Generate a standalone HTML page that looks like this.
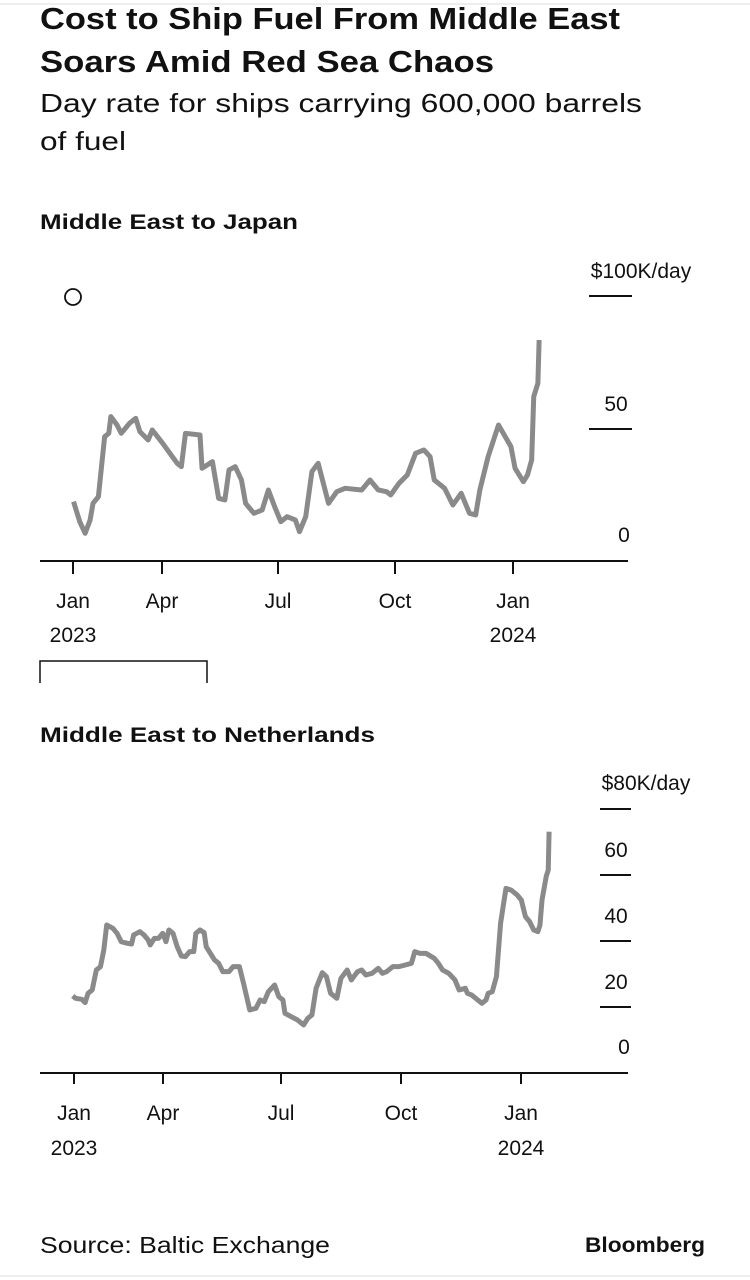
<!DOCTYPE html>
<html><head><meta charset="utf-8"><style>
html,body{margin:0;padding:0;background:#fff;}
svg{display:block;font-family:"Liberation Sans",Arial,sans-serif;}
</style></head><body>
<svg width="750" height="1280" viewBox="0 0 750 1280">
<rect width="750" height="1280" fill="#fff"/>
<line x1="0" y1="4" x2="750" y2="4" stroke="#eee" stroke-width="2"/>
<line x1="0" y1="1276" x2="750" y2="1276" stroke="#eee" stroke-width="2"/>
<g fill="#111">
<text x="40" y="29" font-size="31" font-weight="bold" textLength="580" lengthAdjust="spacingAndGlyphs">Cost to Ship Fuel From Middle East</text>
<text x="40" y="72" font-size="31" font-weight="bold" textLength="454" lengthAdjust="spacingAndGlyphs">Soars Amid Red Sea Chaos</text>
<text x="40" y="112" font-size="26" textLength="602" lengthAdjust="spacingAndGlyphs">Day rate for ships carrying 600,000 barrels</text>
<text x="40" y="150" font-size="26" textLength="86" lengthAdjust="spacingAndGlyphs">of fuel</text>
<text x="40" y="229" font-size="21" font-weight="bold" textLength="258" lengthAdjust="spacingAndGlyphs">Middle East to Japan</text>
<text x="40" y="742" font-size="21" font-weight="bold" textLength="335" lengthAdjust="spacingAndGlyphs">Middle East to Netherlands</text>
</g>
<!-- chart 1 -->
<circle cx="73" cy="297" r="8" fill="none" stroke="#111" stroke-width="1.8"/>
<g fill="#111" font-size="21">
<text x="641" y="278" text-anchor="middle">$100K/day</text>
<text x="616" y="411" text-anchor="middle">50</text>
<text x="624" y="542" text-anchor="middle">0</text>
</g>
<g stroke="#111" stroke-width="2">
<line x1="589" y1="296" x2="632" y2="296"/>
<line x1="589" y1="429" x2="632" y2="429"/>
<line x1="40" y1="561" x2="628" y2="561"/>
<line x1="73" y1="561" x2="73" y2="574"/><line x1="162" y1="561" x2="162" y2="574"/>
<line x1="278" y1="561" x2="278" y2="574"/><line x1="395" y1="561" x2="395" y2="574"/>
<line x1="513" y1="561" x2="513" y2="574"/>
</g>
<g fill="#111" font-size="21" text-anchor="middle">
<text x="73" y="608">Jan</text><text x="162" y="608">Apr</text><text x="278" y="608">Jul</text><text x="395" y="608">Oct</text><text x="513" y="608">Jan</text>
<text x="73" y="642">2023</text><text x="513" y="642">2024</text>
</g>
<g transform="translate(30,250) scale(0.4146,0.3333)">
<polyline fill="none" stroke="#8a8a8a" stroke-width="5" vector-effect="non-scaling-stroke" stroke-linejoin="round" points="105,755 120,815 133,850 145,810 152,760 165,740 180,560 190,550 195,500 210,525 220,550 240,520 255,505 265,545 285,570 295,540 320,580 355,640 365,650 375,550 410,555 415,655 440,635 455,745 470,750 480,660 495,650 510,690 520,760 540,790 560,780 575,720 590,770 605,815 620,800 640,810 650,845 665,800 680,665 695,640 720,760 740,725 760,715 800,720 820,690 840,720 860,725 870,735 890,700 910,675 930,610 950,600 965,620 975,690 1000,715 1020,765 1040,730 1060,790 1075,795 1085,720 1105,620 1130,525 1160,590 1170,655 1190,695 1200,675 1210,630 1215,440 1225,400 1228,270"/>
</g>
<path d="M40 683 V661 H207 V683" fill="none" stroke="#111" stroke-width="1.5"/>
<!-- chart 2 -->
<g fill="#111" font-size="21">
<text x="646" y="790" text-anchor="middle">$80K/day</text>
<text x="616" y="857" text-anchor="middle">60</text>
<text x="616" y="923" text-anchor="middle">40</text>
<text x="616" y="989" text-anchor="middle">20</text>
<text x="624" y="1054" text-anchor="middle">0</text>
</g>
<g stroke="#111" stroke-width="2">
<line x1="600" y1="809" x2="631" y2="809"/>
<line x1="600" y1="875" x2="631" y2="875"/>
<line x1="600" y1="941" x2="631" y2="941"/>
<line x1="600" y1="1007" x2="631" y2="1007"/>
<line x1="40" y1="1073" x2="628" y2="1073"/>
<line x1="74" y1="1073" x2="74" y2="1084"/><line x1="163" y1="1073" x2="163" y2="1084"/>
<line x1="281" y1="1073" x2="281" y2="1084"/><line x1="401" y1="1073" x2="401" y2="1084"/>
<line x1="521" y1="1073" x2="521" y2="1084"/>
</g>
<g fill="#111" font-size="21" text-anchor="middle">
<text x="74" y="1120">Jan</text><text x="163" y="1120">Apr</text><text x="281" y="1120">Jul</text><text x="401" y="1120">Oct</text><text x="521" y="1120">Jan</text>
<text x="74" y="1155">2023</text><text x="521" y="1155">2024</text>
</g>
<g transform="translate(30,770) scale(0.4146,0.3333)">
<polyline fill="none" stroke="#8a8a8a" stroke-width="5" vector-effect="non-scaling-stroke" stroke-linejoin="round" points="103,678 110,685 125,688 133,698 140,670 150,660 160,600 170,590 178,540 185,465 200,475 210,490 220,515 235,520 245,522 250,495 265,485 275,495 285,510 290,525 300,505 310,505 320,490 328,515 335,480 345,490 355,530 365,558 375,560 385,545 395,545 400,490 410,480 420,488 425,530 435,550 445,570 455,580 465,605 480,605 490,590 505,590 515,640 530,720 545,715 555,690 565,695 575,665 590,645 600,680 610,690 615,730 630,740 645,750 660,765 670,745 680,735 690,655 705,608 715,620 725,670 740,685 750,625 765,600 775,630 790,605 800,600 810,615 825,610 840,595 850,610 860,605 875,590 890,590 905,585 920,580 928,545 940,550 955,550 975,565 985,580 995,600 1010,610 1025,630 1035,660 1050,655 1055,670 1065,675 1075,685 1090,700 1100,690 1105,670 1115,665 1125,620 1135,460 1148,355 1160,360 1175,375 1185,390 1195,440 1205,455 1215,480 1225,485 1230,465 1235,390 1245,320 1250,300 1252,185"/>
</g>
<text x="40" y="1253" font-size="23" fill="#111" textLength="290" lengthAdjust="spacingAndGlyphs">Source: Baltic Exchange</text>
<text x="705" y="1252" font-size="21" font-weight="bold" fill="#111" text-anchor="end" textLength="120" lengthAdjust="spacingAndGlyphs">Bloomberg</text>
</svg>
</body></html>
